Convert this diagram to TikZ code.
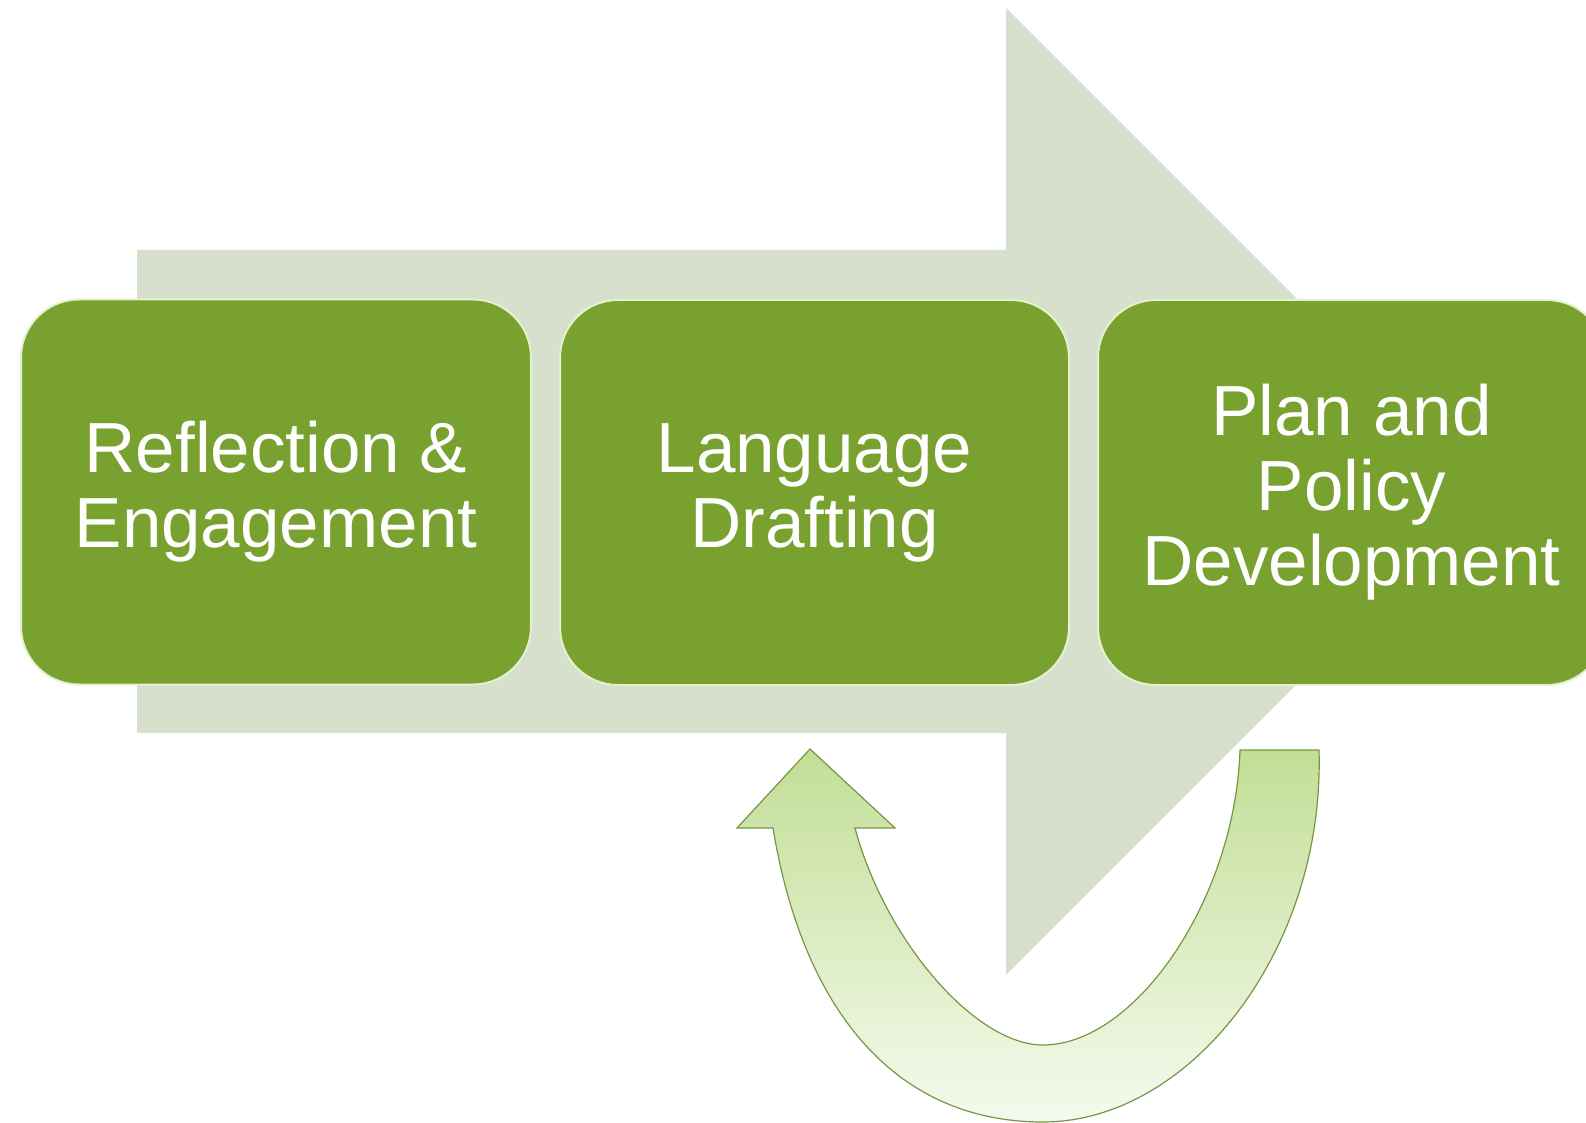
\documentclass[tikz,border=0pt]{standalone}
\usepackage{fontspec}
\setmainfont{Liberation Sans}
\definecolor{boxgreen}{RGB}{121,161,48}
\definecolor{arrowgray}{RGB}{215,224,205}
\definecolor{ctop}{RGB}{194,222,150}
\definecolor{cbot}{RGB}{245,250,238}
\definecolor{cline}{RGB}{118,150,68}
\definecolor{boxline}{RGB}{228,242,204}
\begin{document}
\begin{tikzpicture}[x=0.5pt,y=-0.5pt,
  stepbox/.style={rectangle, rounded corners=29pt, fill=boxgreen, draw=boxline,
    line width=1pt, minimum width=254.5pt, minimum height=192.5pt,
    align=center, text=white, inner sep=0pt,
    font=\fontsize{35.5pt}{37.5pt}\selectfont},
  bigarrow/.style={fill=arrowgray},
  uturn/.style={draw=cline, line width=0.6pt, top color=ctop, bottom color=cbot}]
\useasboundingbox (0,0) rectangle (1586,1123);
\clip (0,0) rectangle (1586,1123);
\fill[bigarrow] (137,250) -- (1006,250) -- (1006,8) -- (1489.5,491.5)
  -- (1006,975) -- (1006,733) -- (137,733) -- cycle;
\node[stepbox, minimum width=255pt] (refl) at (276,492) {Reflection \&\\Engagement};
\node[stepbox] (lang) at (814.5,492.5) {Language\\Drafting};
\node[stepbox, minimum width=253.5pt] (plan) at (1351.5,492.5) {Plan and\\Policy\\Development};
\path[uturn] (810,749) -- (895,828) -- (855,828)
  .. controls (885,940) and (975,1045) .. (1043,1045)
  .. controls (1135,1045) and (1235,900) .. (1240,750)
  -- (1319,750)
  .. controls (1325,950) and (1190,1122) .. (1043,1122)
  .. controls (895,1122) and (803,1010) .. (773,828)
  -- (737,828) -- cycle;
\end{tikzpicture}
\end{document}
